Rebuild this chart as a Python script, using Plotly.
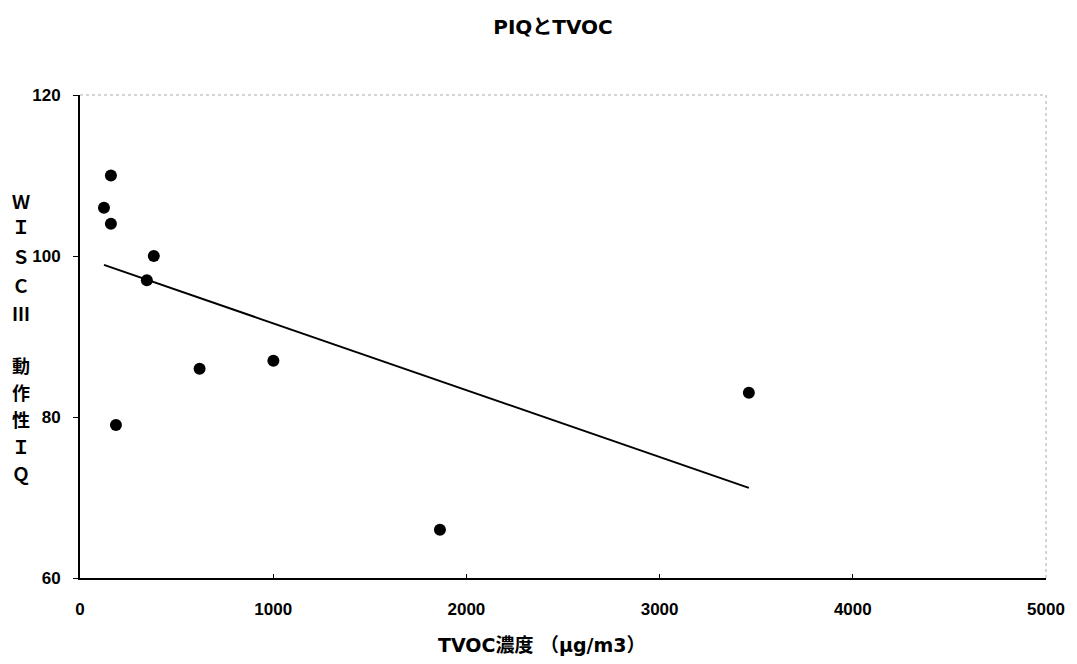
import plotly.graph_objects as go

# Data
tvoc = [160, 124, 160, 382, 346, 619, 1001, 186, 1863, 3462]
piq = [110, 106, 104, 100, 97, 86, 87, 79, 66, 83]
trend_x = [124, 3462]
trend_y = [98.9, 71.2]

x_ticks = [0, 1000, 2000, 3000, 4000, 5000]
y_ticks = [60, 80, 100, 120]

title_text = "PIQとTVOC"
x_title = "TVOC濃度 （μg/m3）"
y_title_chars = ["Ｗ", "Ｉ", "Ｓ", "Ｃ", "Ⅲ", "動", "作", "性", "Ｉ", "Ｑ"]
y_title_pix = [201, 226, 256, 285, 313, 365, 392, 419, 446, 473]

# page offset of the figure (body margin)
OFF = 8
W, H = 1077 - OFF, 664 - OFF
ML, MR, MT, MB = 80 - OFF, W - (1049 - OFF), 95 - OFF, H - (578 - OFF)
PW, PH = W - ML - MR, H - MT - MB
FONT = "DejaVu Sans, Noto Sans CJK JP, sans-serif"
CJK = "Noto Sans CJK JP, DejaVu Sans, sans-serif"
TICKF = dict(family="Liberation Sans, Arial, sans-serif", size=17, weight="bold", color="black")


def px_to_paper(px, py):
    fx, fy = px - OFF, py - OFF
    return (fx - ML) / PW, 1 - (fy - MT) / PH


fig = go.Figure()
fig.add_trace(go.Scatter(x=tvoc, y=piq, mode="markers",
                         marker=dict(size=12, color="black"),
                         showlegend=False, hoverinfo="x+y"))
fig.add_trace(go.Scatter(x=trend_x, y=trend_y, mode="lines",
                         line=dict(color="black", width=2),
                         showlegend=False, hoverinfo="skip"))

annotations = []
for ch, py in zip(y_title_chars, y_title_pix):
    ax, ay = px_to_paper(21, py)
    annotations.append(dict(
        text=ch, xref="paper", yref="paper", x=ax, y=ay,
        xanchor="center", yanchor="middle", showarrow=False,
        font=dict(family=CJK, size=18, color="black", weight="bold")))

ax, ay = px_to_paper(543, 645)
annotations.append(dict(
    text=x_title, xref="paper", yref="paper", x=ax, y=ay,
    xanchor="center", yanchor="middle", showarrow=False,
    font=dict(family=FONT, size=19, color="black", weight="bold")))

fig.update_layout(
    width=W, height=H,
    margin=dict(l=ML, r=MR, t=MT, b=MB),
    paper_bgcolor="white", plot_bgcolor="white",
    title=dict(text=title_text, x=(553 - OFF) / W, xanchor="center",
               y=1 - (27 - OFF) / H, yanchor="middle",
               font=dict(family=FONT, size=20, color="black", weight="bold")),
    font=dict(family=FONT, color="black"),
    xaxis=dict(range=[0, 5000], tickvals=x_ticks, ticks="inside", ticklen=4,
               tickcolor="black", showline=True, linecolor="black", linewidth=2,
               showgrid=False, zeroline=False, ticklabelstandoff=15,
               tickfont=TICKF),
    yaxis=dict(range=[60, 120], tickvals=y_ticks, ticks="outside", ticklen=5,
               tickcolor="black", showline=True, linecolor="black", linewidth=2,
               showgrid=False, zeroline=False, ticklabelstandoff=9,
               tickfont=TICKF),
    annotations=annotations,
    shapes=[
        dict(type="line", xref="paper", yref="paper", x0=0, x1=1, y0=1, y1=1,
             line=dict(color="#aaa", width=1, dash="dot")),
        dict(type="line", xref="paper", yref="paper", x0=1, x1=1, y0=0, y1=1,
             line=dict(color="#aaa", width=1, dash="dot")),
    ],
)

fig.write_html("out.html")
